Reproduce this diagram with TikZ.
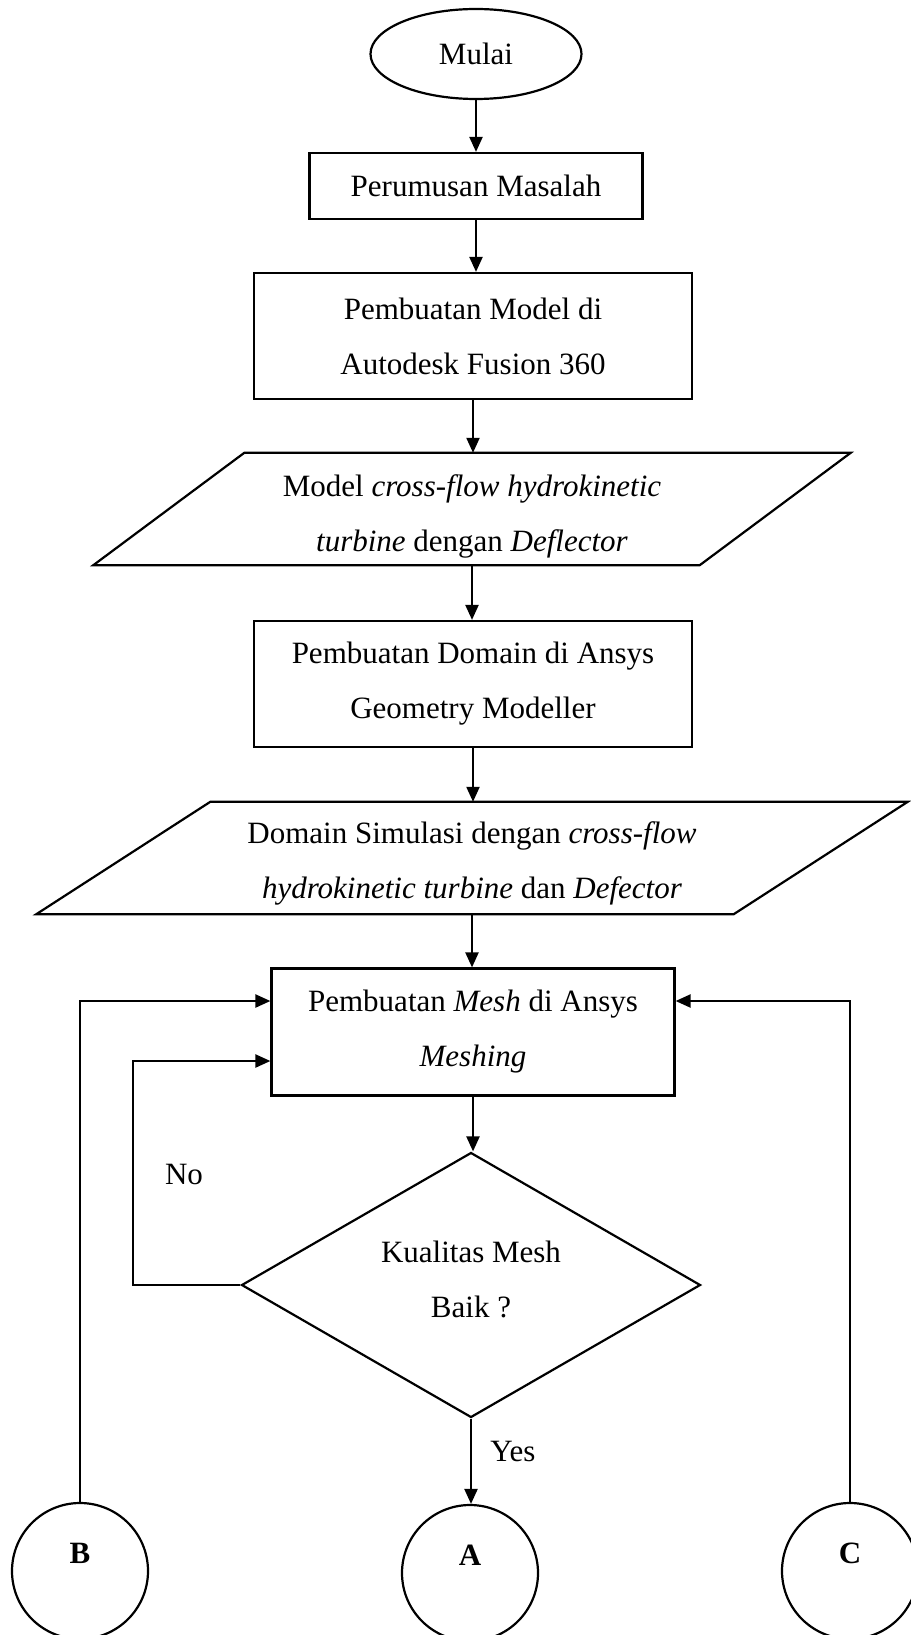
\documentclass[tikz,border=0pt]{standalone}
\usepackage{fontspec}
\setmainfont{Liberation Serif}
\usepackage{tikz}
\usetikzlibrary{shapes.geometric,arrows.meta}

\begin{document}
\begin{tikzpicture}[x=1pt,y=-1pt,
  every node/.style={font=\fontsize{31}{55}\selectfont,align=center,inner sep=0pt},
  proc/.style={draw,line width=2.2pt,rectangle},
  io/.style={rectangle,minimum height=112pt},
  conn/.style={draw,line width=2.2pt,circle,minimum size=136pt,text height=20pt,text depth=36pt,font=\fontsize{31}{55}\selectfont\bfseries},
  arr/.style={line width=2.2pt,-{Triangle[length=15pt,width=13pt]}}]
\useasboundingbox (0,0) rectangle (910,1635);
\node[draw,line width=2.2pt,ellipse,minimum width=211pt,minimum height=90pt] (mulai) at (476,54) {Mulai};
\node[proc,minimum width=333pt,minimum height=66pt] (rumusan) at (476,186) {Perumusan Masalah};
\node[proc,minimum width=438pt,minimum height=126pt] (model) at (473,336) {Pembuatan Model di\\Autodesk Fusion 360};
\node[io,minimum width=606pt] (modelout) at (472,509) {};
\draw[line width=2.2pt] ([xshift=75.5pt]modelout.north west) -- ([xshift=75.5pt]modelout.north east)
  -- ([xshift=-75.5pt]modelout.south east) -- ([xshift=-75.5pt]modelout.south west) -- cycle;
\node (modeltext) at ([yshift=-7pt]modelout) {Model \textit{cross-flow hydrokinetic}\\\textit{turbine} dengan \textit{Deflector}};
\node[proc,minimum width=438pt,minimum height=126pt] (domain) at (473,684) {Pembuatan Domain di Ansys\\Geometry Modeller};
\node[io,minimum width=697pt] (domainout) at (472,858) {};
\draw[line width=2.2pt] ([xshift=87pt]domainout.north west) -- ([xshift=87pt]domainout.north east)
  -- ([xshift=-87pt]domainout.south east) -- ([xshift=-87pt]domainout.south west) -- cycle;
\node (domaintext) at ([yshift=-5pt]domainout) {Domain Simulasi dengan \textit{cross-flow}\\\textit{hydrokinetic turbine} dan \textit{Defector}};
\node[proc,minimum width=403pt,minimum height=127pt] (mesh) at (473,1032) {Pembuatan \textit{Mesh} di Ansys\\\textit{Meshing}};
\node[draw,line width=2.2pt,diamond,minimum width=459pt,minimum height=265pt] (cek) at (471,1285) {};
\node (cektext) at ([yshift=6pt]cek) {Kualitas Mesh\\Baik ?};
\node[conn] (B) at (80,1571) {B};
\node[conn] (A) at (470,1573) {A};
\node[conn] (C) at (850,1571) {C};
\node (no) at (184,1174) {No};
\node (yes) at (513,1451) {Yes};
\coordinate (noturn) at (133,1061);
\draw[arr] (mulai) -- (mulai |- rumusan.north);
\draw[arr] (rumusan) -- (rumusan |- model.north);
\draw[arr] (model) -- (model |- modelout.north);
\draw[arr] (modelout) -- (modelout |- domain.north);
\draw[arr] (domain) -- (domain |- domainout.north);
\draw[arr] (domainout) -- (domainout |- mesh.north);
\draw[arr] (mesh) -- (mesh |- cek.north);
\draw[arr] (cek.south) -- (cek.south |- A.north);
\draw[arr] (cek.west) -| (noturn) -- (mesh.west |- noturn);
\draw[arr] (B.north) |- ([yshift=31pt]mesh.west);
\draw[arr] (C.north) |- ([yshift=31pt]mesh.east);
\end{tikzpicture}
\end{document}
